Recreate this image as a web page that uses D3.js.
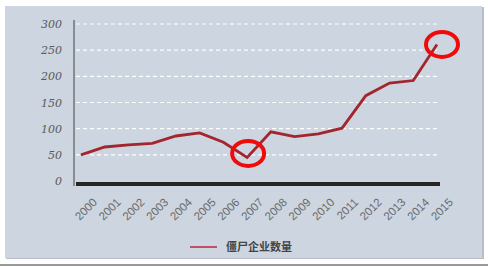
<!DOCTYPE html>
<head>
  <meta charset="utf-8">
  <style>
    body { margin: 0; background: #fff; }
    svg { display: block; }
  </style>
  <title>僵尸企业数量</title>
</head>
<body>
  <script src="https://cdn.jsdelivr.net/npm/d3@7/dist/d3.min.js"></script>
  <script>
    // data
    const years = ["2000","2001","2002","2003","2004","2005","2006","2007",
                   "2008","2009","2010","2011","2012","2013","2014","2015"];
    const counts = [50, 65, 69, 72, 86, 92, 74, 45, 94, 85, 90, 101, 163, 187, 192, 261];
    const yTicks = [0, 50, 100, 150, 200, 250, 300];
    const circled = ["2007", "2015"];
    const seriesName = "僵尸企业数量";

    const W = 488, H = 267;
    const svg = d3.select("body").append("svg")
      .attr("width", W).attr("height", H);

    // panel background + shadow
    svg.append("rect").attr("x", 6).attr("y", 7).attr("width", 478).attr("height", 252)
      .attr("fill", "#b8bec6");
    svg.append("rect").attr("x", 5).attr("y", 6).attr("width", 477).attr("height", 252)
      .attr("fill", "#ccd5e0");
    svg.append("line").attr("x1", 0).attr("x2", W).attr("y1", 265).attr("y2", 265)
      .attr("stroke", "#777").attr("stroke-width", 1.5);

    const x = d3.scalePoint().domain(years).range([81, 437]);
    const y = d3.scaleLinear().domain([0, 300]).range([181, 24]);

    // dashed gridlines
    svg.append("g").selectAll("line")
      .data(yTicks.filter(d => d > 0))
      .enter().append("line")
      .attr("x1", 76).attr("x2", 440)
      .attr("y1", d => y(d)).attr("y2", d => y(d))
      .attr("stroke", "#fff").attr("stroke-width", 1.2)
      .attr("stroke-dasharray", "4,3");

    // y axis
    const yAxis = svg.append("g")
      .attr("transform", "translate(74,0)")
      .call(d3.axisLeft(y).tickValues(yTicks).tickSize(0).tickPadding(12));
    yAxis.select(".domain").attr("stroke", "#444").attr("d", "M0,20V186");
    yAxis.selectAll("text")
      .attr("font-family", "'DejaVu Serif', serif")
      .attr("font-style", "italic")
      .attr("font-size", 11)
      .attr("fill", "#5a5a5a");

    // thick baseline
    svg.append("line").attr("x1", 76).attr("x2", 440)
      .attr("y1", y(0) + 3).attr("y2", y(0) + 3)
      .attr("stroke", "#262626").attr("stroke-width", 4);

    // x labels, slanted 45 degrees
    svg.append("g").selectAll("text")
      .data(years)
      .enter().append("text")
      .attr("transform", d => `translate(${x(d) + 14},200) rotate(-45)`)
      .style("text-anchor", "end")
      .attr("dy", "0.35em")
      .attr("font-family", "'Liberation Sans', Arial, sans-serif")
      .attr("font-size", 11.5)
      .attr("fill", "#6a6a6a")
      .text(d => d);

    // line
    const line = d3.line()
      .x((d, i) => x(years[i]))
      .y(d => y(d));
    svg.append("path")
      .datum(counts)
      .attr("d", line)
      .attr("fill", "none")
      .attr("stroke", "#a3262f")
      .attr("stroke-width", 2.8);

    // red highlight ellipses
    svg.append("g").selectAll("ellipse")
      .data(circled)
      .enter().append("ellipse")
      .attr("cx", d => x(d) + (d === "2015" ? 5 : 1))
      .attr("cy", d => y(counts[years.indexOf(d)]) + (d === "2015" ? 0 : -4))
      .attr("rx", 16).attr("ry", 12.5)
      .attr("fill", "none")
      .attr("stroke", "#f00a0a")
      .attr("stroke-width", 4);

    // legend
    const lg = svg.append("g").attr("transform", "translate(190,247)");
    lg.append("line").attr("x1", 0).attr("x2", 27).attr("y1", 0).attr("y2", 0)
      .attr("stroke", "#c0506a").attr("stroke-width", 2);
    lg.append("text").attr("x", 36).attr("dy", "0.35em")
      .attr("font-family", "'Noto Sans CJK SC', sans-serif")
      .attr("font-weight", "bold")
      .attr("font-size", 11)
      .attr("fill", "#444")
      .text(seriesName);
  </script>
</body>
